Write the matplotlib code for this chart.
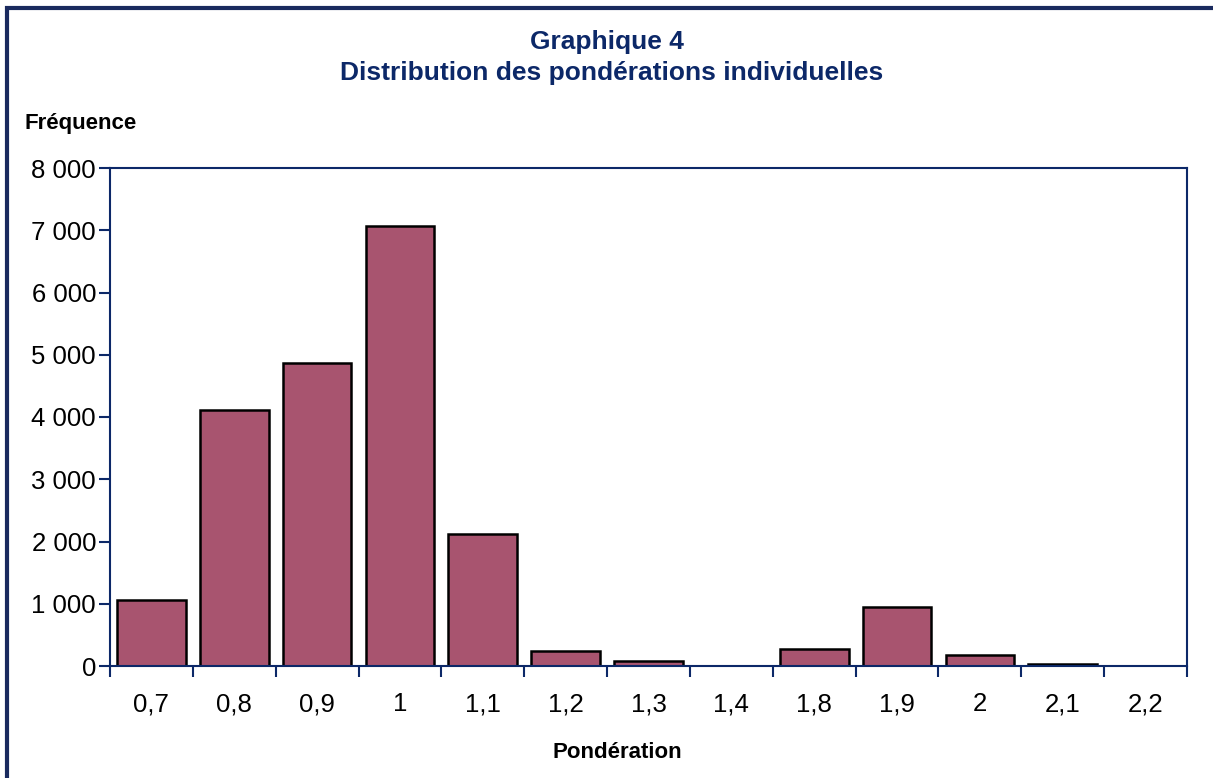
import numpy as np
import matplotlib.pyplot as plt
from matplotlib.patches import Rectangle
from matplotlib.ticker import FuncFormatter

# Data
categories = ['0,7', '0,8', '0,9', '1', '1,1', '1,2', '1,3', '1,4', '1,8', '1,9', '2', '2,1', '2,2']
frequencies = [1060, 4110, 4870, 7070, 2120, 240, 80, 0, 275, 950, 175, 30, 0]

navy = '#0c2868'
bar_color = '#a8546f'

plt.rcParams['font.family'] = ['Liberation Sans', 'DejaVu Sans']

fig = plt.figure(figsize=(12.13, 7.78), dpi=100)
ax = fig.add_axes([110 / 1213, 112 / 778, 1077 / 1213, 498 / 778])

x = np.arange(len(categories))
ax.bar(x, frequencies, width=0.83, color=bar_color, edgecolor='black', linewidth=1.8)

ax.set_xlim(-0.5, len(categories) - 0.5)
ax.set_ylim(0, 8000)
ax.set_yticks(range(0, 8001, 1000))
ax.yaxis.set_major_formatter(FuncFormatter(lambda v, p: f"{int(v):,}".replace(',', ' ')))
ax.tick_params(axis='y', direction='out', length=8, width=1.5, color=navy,
               labelsize=18.5, pad=2)

ax.set_xticks(x)
ax.set_xticklabels(categories)
ax.set_xticks(np.arange(-0.5, len(categories), 1), minor=True)
ax.tick_params(axis='x', which='major', length=0, labelsize=18.5, pad=19)
ax.tick_params(axis='x', which='minor', direction='out', length=8, width=1.5, color=navy)

for s in ax.spines.values():
    s.set_color(navy)
    s.set_linewidth(1.5)

fig.text(0.5, 1 - 42 / 778, 'Graphique 4', ha='center', va='center',
         fontsize=19, fontweight='bold', color=navy)
fig.text(612 / 1213, 1 - 73 / 778, 'Distribution des pondérations individuelles', ha='center', va='center',
         fontsize=19, fontweight='bold', color=navy)
fig.text(25 / 1213, 1 - 124 / 778, 'Fréquence', ha='left', va='center',
         fontsize=16, fontweight='bold', color='black')
fig.text(617 / 1213, 1 - 753 / 778, 'Pondération', ha='center', va='center',
         fontsize=16, fontweight='bold', color='black')

# outer frame (cut off on the right and bottom edges)
fig.patches.append(Rectangle((7 / 1213, -0.05), 1.1, 1 - 8 / 778 + 0.05,
                             transform=fig.transFigure, fill=False,
                             edgecolor='#1a2a5e', linewidth=3))

fig.savefig('out.png', dpi=100)
